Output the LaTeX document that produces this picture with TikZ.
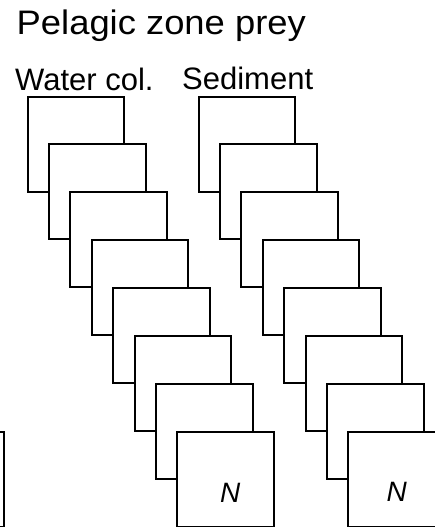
\documentclass[tikz,border=0pt]{standalone}
\usepackage{fontspec}
\setmainfont{Liberation Sans}
\begin{document}
\begin{tikzpicture}[x=1pt,y=-1pt,
  card/.style={draw, fill=white, line width=2pt, rectangle,
    minimum width=96.6pt, minimum height=95pt, inner sep=0pt,
    outer sep=0pt, anchor=north west},
  head/.style={inner sep=0pt, anchor=base west, font=\fontsize{31}{31}\selectfont},
  title/.style={inner sep=0pt, anchor=base west, xscale=1.07,
    font=\fontsize{34}{34}\selectfont},
  nlab/.style={inner sep=0pt, font=\fontsize{28}{28}\selectfont\itshape}]
\useasboundingbox (0,0) rectangle (435,527);
\clip (0,0) rectangle (435,527);

% headings
\node[title] (ttl) at (16.5,34.3) {Pelagic zone prey};
\node[head] (hw) at (15,90) {Water col.};
\node[head] (hs) at (182,89.5) {Sediment};

% last card of the neighbouring stack, cut by the left margin
\node[card] (p8) at (-92.3,432) {};

% two stacks of eight cards each
\foreach \i in {1,...,8} {
  \node[card] (w\i) at ({27.5+21.4*(\i-1)}, {96.5+47.9*(\i-1)}) {};
}
\foreach \i in {1,...,8} {
  \node[card] (s\i) at ({198.5+21.4*(\i-1)}, {96.5+47.9*(\i-1)}) {};
}

% labels on the front cards
\node[nlab] (nw) at ([xshift=53pt,yshift=-61.3pt]w8.north west) {N};
\node[nlab] (ns) at ([xshift=48.4pt,yshift=-59.7pt]s8.north west) {N};
\end{tikzpicture}
\end{document}
